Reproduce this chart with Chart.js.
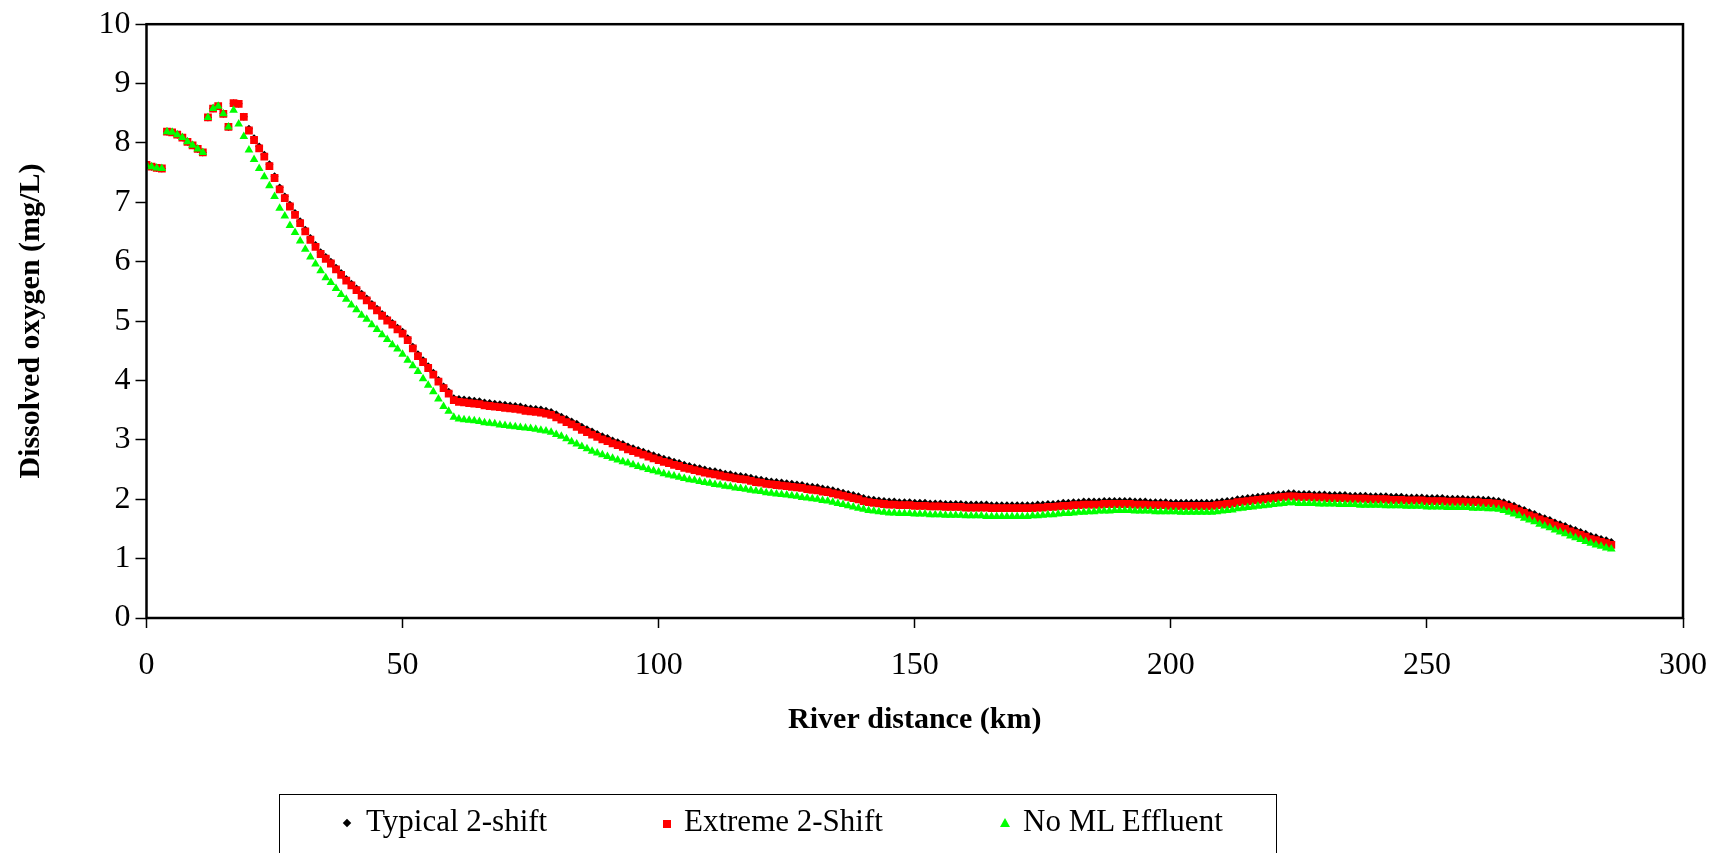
<!DOCTYPE html>
<html>
<head>
<meta charset="utf-8">
<title>Dissolved oxygen along the river</title>
<script src="https://cdn.jsdelivr.net/npm/chart.js@4.4.1/dist/chart.umd.min.js"></script>
<style>
  html, body { margin: 0; padding: 0; background: #fff; overflow: hidden; }
  #wrap { position: relative; width: 1727px; height: 853px; }
  #chart { position: absolute; left: 0; top: 0; }
  #legend {
    position: absolute; left: 279px; top: 794px; width: 998px; height: 90px;
    border: 1.5px solid #000; box-sizing: border-box;
    font-family: "Liberation Serif", serif; font-size: 31px; color: #000;
  }
  #legend .mark { position: absolute; }
  #legend .txt { position: absolute; top: 8px; white-space: nowrap; }
  .diamond { width: 6px; height: 6px; background: #000; transform: rotate(45deg); }
  .square { width: 8px; height: 8px; background: #ff0000; }
  .triangle { width: 0; height: 0; border-left: 5px solid transparent; border-right: 5px solid transparent; border-bottom: 9px solid #00ff00; }
</style>
</head>
<body>
<div id="wrap">
  <canvas id="chart" width="1727" height="853"></canvas>
  <div id="legend">
    <div class="mark diamond" style="left:64px; top:25px;"></div>
    <div class="txt" style="left:86px;">Typical 2-shift</div>
    <div class="mark square" style="left:383px; top:25px;"></div>
    <div class="txt" style="left:404px;">Extreme 2-Shift</div>
    <div class="mark triangle" style="left:720px; top:23px;"></div>
    <div class="txt" style="left:743px;">No ML Effluent</div>
  </div>
</div>
<script>
// 河流距离 (km)
const distanceKm = [
  0, 1, 2, 3, 4, 5, 6, 7, 8, 9,
  10, 11, 12, 13, 14, 15, 16, 17, 18, 19,
  20, 21, 22, 23, 24, 25, 26, 27, 28, 29,
  30, 31, 32, 33, 34, 35, 36, 37, 38, 39,
  40, 41, 42, 43, 44, 45, 46, 47, 48, 49,
  50, 51, 52, 53, 54, 55, 56, 57, 58, 59,
  60, 61, 62, 63, 64, 65, 66, 67, 68, 69,
  70, 71, 72, 73, 74, 75, 76, 77, 78, 79,
  80, 81, 82, 83, 84, 85, 86, 87, 88, 89,
  90, 91, 92, 93, 94, 95, 96, 97, 98, 99,
  100, 101, 102, 103, 104, 105, 106, 107, 108, 109,
  110, 111, 112, 113, 114, 115, 116, 117, 118, 119,
  120, 121, 122, 123, 124, 125, 126, 127, 128, 129,
  130, 131, 132, 133, 134, 135, 136, 137, 138, 139,
  140, 141, 142, 143, 144, 145, 146, 147, 148, 149,
  150, 151, 152, 153, 154, 155, 156, 157, 158, 159,
  160, 161, 162, 163, 164, 165, 166, 167, 168, 169,
  170, 171, 172, 173, 174, 175, 176, 177, 178, 179,
  180, 181, 182, 183, 184, 185, 186, 187, 188, 189,
  190, 191, 192, 193, 194, 195, 196, 197, 198, 199,
  200, 201, 202, 203, 204, 205, 206, 207, 208, 209,
  210, 211, 212, 213, 214, 215, 216, 217, 218, 219,
  220, 221, 222, 223, 224, 225, 226, 227, 228, 229,
  230, 231, 232, 233, 234, 235, 236, 237, 238, 239,
  240, 241, 242, 243, 244, 245, 246, 247, 248, 249,
  250, 251, 252, 253, 254, 255, 256, 257, 258, 259,
  260, 261, 262, 263, 264, 265, 266, 267, 268, 269,
  270, 271, 272, 273, 274, 275, 276, 277, 278, 279,
  280, 281, 282, 283, 284, 285, 286
];

// Typical 2-shift (mg/L)
const typical2Shift = [
  7.63, 7.60, 7.58, 7.57, 8.19, 8.18, 8.14, 8.09, 8.02, 7.96,
  7.90, 7.84, 8.43, 8.58, 8.62, 8.49, 8.27, 8.67, 8.66, 8.44,
  8.24, 8.08, 7.94, 7.80, 7.64, 7.44, 7.25, 7.10, 6.96, 6.82,
  6.68, 6.54, 6.40, 6.28, 6.16, 6.08, 6.00, 5.90, 5.81, 5.71,
  5.63, 5.55, 5.46, 5.38, 5.29, 5.21, 5.12, 5.04, 4.97, 4.89,
  4.82, 4.71, 4.57, 4.44, 4.34, 4.24, 4.13, 4.01, 3.90, 3.81,
  3.70, 3.69, 3.68, 3.67, 3.66, 3.65, 3.63, 3.62, 3.61, 3.60,
  3.59, 3.58, 3.57, 3.56, 3.54, 3.53, 3.52, 3.51, 3.49, 3.47,
  3.43, 3.39, 3.35, 3.31, 3.27, 3.22, 3.18, 3.14, 3.10, 3.06,
  3.03, 2.99, 2.96, 2.93, 2.89, 2.86, 2.83, 2.80, 2.77, 2.74,
  2.71, 2.68, 2.66, 2.63, 2.61, 2.58, 2.56, 2.54, 2.52, 2.50,
  2.48, 2.47, 2.45, 2.43, 2.42, 2.40, 2.39, 2.38, 2.36, 2.34,
  2.33, 2.31, 2.30, 2.29, 2.28, 2.27, 2.26, 2.25, 2.24, 2.22,
  2.21, 2.20, 2.18, 2.17, 2.15, 2.13, 2.11, 2.09, 2.07, 2.05,
  2.02, 2.00, 1.99, 1.98, 1.97, 1.96, 1.96, 1.95, 1.95, 1.95,
  1.94, 1.94, 1.94, 1.93, 1.93, 1.93, 1.92, 1.92, 1.92, 1.92,
  1.91, 1.91, 1.91, 1.91, 1.91, 1.90, 1.90, 1.90, 1.90, 1.90,
  1.90, 1.90, 1.90, 1.90, 1.91, 1.91, 1.92, 1.92, 1.93, 1.94,
  1.94, 1.95, 1.95, 1.96, 1.96, 1.96, 1.96, 1.97, 1.97, 1.97,
  1.97, 1.97, 1.97, 1.96, 1.96, 1.96, 1.95, 1.95, 1.95, 1.95,
  1.94, 1.94, 1.94, 1.94, 1.94, 1.94, 1.94, 1.94, 1.94, 1.95,
  1.96, 1.97, 1.98, 2.00, 2.01, 2.02, 2.03, 2.04, 2.05, 2.06,
  2.07, 2.08, 2.09, 2.10, 2.10, 2.09, 2.09, 2.09, 2.08, 2.08,
  2.08, 2.07, 2.07, 2.07, 2.07, 2.06, 2.06, 2.06, 2.06, 2.05,
  2.05, 2.05, 2.05, 2.04, 2.04, 2.04, 2.03, 2.03, 2.03, 2.03,
  2.02, 2.02, 2.02, 2.02, 2.01, 2.01, 2.01, 2.01, 2.00, 2.00,
  2.00, 1.99, 1.99, 1.98, 1.97, 1.95, 1.92, 1.89, 1.85, 1.82,
  1.78, 1.75, 1.71, 1.68, 1.65, 1.61, 1.58, 1.55, 1.51, 1.48,
  1.45, 1.42, 1.38, 1.36, 1.33, 1.31, 1.28
];

// Extreme 2-Shift (mg/L)
const extreme2Shift = [
  7.63, 7.60, 7.58, 7.57, 8.19, 8.18, 8.14, 8.09, 8.02, 7.96,
  7.90, 7.84, 8.43, 8.58, 8.62, 8.49, 8.27, 8.67, 8.66, 8.44,
  8.21, 8.05, 7.91, 7.77, 7.61, 7.41, 7.22, 7.07, 6.93, 6.79,
  6.65, 6.51, 6.37, 6.25, 6.13, 6.05, 5.97, 5.87, 5.78, 5.68,
  5.60, 5.52, 5.43, 5.35, 5.26, 5.18, 5.09, 5.01, 4.94, 4.86,
  4.79, 4.68, 4.54, 4.41, 4.31, 4.21, 4.10, 3.98, 3.87, 3.78,
  3.67, 3.64, 3.63, 3.62, 3.61, 3.60, 3.58, 3.57, 3.56, 3.55,
  3.54, 3.53, 3.52, 3.51, 3.49, 3.48, 3.47, 3.46, 3.44, 3.42,
  3.38, 3.34, 3.30, 3.26, 3.22, 3.17, 3.13, 3.09, 3.05, 3.01,
  2.98, 2.94, 2.91, 2.88, 2.84, 2.81, 2.78, 2.75, 2.72, 2.69,
  2.66, 2.63, 2.61, 2.58, 2.56, 2.53, 2.51, 2.49, 2.47, 2.45,
  2.43, 2.42, 2.40, 2.38, 2.37, 2.35, 2.34, 2.33, 2.31, 2.29,
  2.28, 2.26, 2.25, 2.24, 2.23, 2.22, 2.21, 2.20, 2.19, 2.17,
  2.16, 2.15, 2.13, 2.12, 2.10, 2.08, 2.06, 2.04, 2.02, 2.00,
  1.97, 1.95, 1.94, 1.93, 1.92, 1.91, 1.91, 1.90, 1.90, 1.90,
  1.89, 1.89, 1.89, 1.88, 1.88, 1.88, 1.87, 1.87, 1.87, 1.87,
  1.86, 1.86, 1.86, 1.86, 1.86, 1.85, 1.85, 1.85, 1.85, 1.85,
  1.85, 1.85, 1.85, 1.85, 1.86, 1.86, 1.87, 1.87, 1.88, 1.89,
  1.89, 1.90, 1.90, 1.91, 1.91, 1.91, 1.91, 1.92, 1.92, 1.92,
  1.92, 1.92, 1.92, 1.91, 1.91, 1.91, 1.90, 1.90, 1.90, 1.90,
  1.89, 1.89, 1.89, 1.89, 1.89, 1.89, 1.89, 1.89, 1.89, 1.90,
  1.91, 1.92, 1.93, 1.95, 1.96, 1.97, 1.98, 1.99, 2.00, 2.01,
  2.02, 2.03, 2.04, 2.05, 2.05, 2.04, 2.04, 2.04, 2.03, 2.03,
  2.03, 2.02, 2.02, 2.02, 2.02, 2.01, 2.01, 2.01, 2.01, 2.00,
  2.00, 2.00, 2.00, 1.99, 1.99, 1.99, 1.98, 1.98, 1.98, 1.98,
  1.97, 1.97, 1.97, 1.97, 1.96, 1.96, 1.96, 1.96, 1.95, 1.95,
  1.95, 1.94, 1.94, 1.93, 1.92, 1.90, 1.87, 1.84, 1.80, 1.77,
  1.73, 1.70, 1.66, 1.63, 1.60, 1.56, 1.53, 1.50, 1.46, 1.43,
  1.40, 1.37, 1.33, 1.31, 1.28, 1.26, 1.23
];

// No ML Effluent (mg/L)
const noMlEffluent = [
  7.63, 7.60, 7.58, 7.57, 8.19, 8.18, 8.14, 8.09, 8.02, 7.96,
  7.90, 7.84, 8.43, 8.58, 8.62, 8.49, 8.27, 8.55, 8.32, 8.11,
  7.88, 7.72, 7.57, 7.43, 7.28, 7.10, 6.90, 6.77, 6.61, 6.49,
  6.35, 6.21, 6.08, 5.96, 5.85, 5.73, 5.65, 5.55, 5.45, 5.37,
  5.27, 5.19, 5.10, 5.03, 4.94, 4.86, 4.77, 4.69, 4.60, 4.53,
  4.44, 4.34, 4.25, 4.15, 4.03, 3.92, 3.81, 3.69, 3.56, 3.48,
  3.38, 3.35, 3.34, 3.33, 3.32, 3.31, 3.29, 3.28, 3.27, 3.25,
  3.24, 3.23, 3.22, 3.21, 3.20, 3.19, 3.18, 3.16, 3.15, 3.13,
  3.09, 3.06, 3.02, 2.97, 2.93, 2.89, 2.85, 2.81, 2.78, 2.75,
  2.72, 2.69, 2.66, 2.63, 2.61, 2.58, 2.55, 2.53, 2.50, 2.48,
  2.46, 2.43, 2.41, 2.39, 2.37, 2.35, 2.33, 2.32, 2.30, 2.28,
  2.27, 2.25, 2.24, 2.22, 2.21, 2.19, 2.18, 2.17, 2.15, 2.14,
  2.13, 2.11, 2.10, 2.09, 2.08, 2.07, 2.06, 2.05, 2.03, 2.02,
  2.01, 2.00, 1.98, 1.97, 1.95, 1.93, 1.91, 1.89, 1.87, 1.85,
  1.83, 1.81, 1.80, 1.79, 1.78, 1.77, 1.77, 1.76, 1.76, 1.76,
  1.75, 1.75, 1.75, 1.74, 1.74, 1.74, 1.73, 1.73, 1.73, 1.73,
  1.72, 1.72, 1.72, 1.72, 1.71, 1.71, 1.71, 1.71, 1.71, 1.71,
  1.71, 1.71, 1.71, 1.72, 1.72, 1.73, 1.74, 1.74, 1.75, 1.76,
  1.76, 1.77, 1.78, 1.78, 1.79, 1.79, 1.80, 1.80, 1.80, 1.81,
  1.81, 1.81, 1.81, 1.80, 1.80, 1.80, 1.80, 1.79, 1.79, 1.79,
  1.79, 1.79, 1.78, 1.78, 1.78, 1.78, 1.78, 1.78, 1.78, 1.79,
  1.80, 1.81, 1.82, 1.84, 1.85, 1.86, 1.87, 1.88, 1.89, 1.90,
  1.91, 1.92, 1.93, 1.94, 1.94, 1.93, 1.93, 1.93, 1.93, 1.92,
  1.92, 1.92, 1.92, 1.91, 1.91, 1.91, 1.91, 1.90, 1.90, 1.90,
  1.90, 1.90, 1.89, 1.89, 1.89, 1.89, 1.88, 1.88, 1.88, 1.88,
  1.87, 1.87, 1.87, 1.87, 1.86, 1.86, 1.86, 1.86, 1.86, 1.85,
  1.85, 1.85, 1.84, 1.84, 1.83, 1.81, 1.78, 1.75, 1.72, 1.68,
  1.65, 1.62, 1.58, 1.55, 1.52, 1.48, 1.45, 1.42, 1.38, 1.35,
  1.32, 1.29, 1.26, 1.23, 1.21, 1.18, 1.16
];

// 坐标轴刻度
const xTicks = [0, 50, 100, 150, 200, 250, 300];
const yTicks = [0, 1, 2, 3, 4, 5, 6, 7, 8, 9, 10];

const serif = '"Liberation Serif", "Times New Roman", serif';

function toPoints(values) {
    return values.map((v, i) => ({ x: distanceKm[i], y: v }));
}

// 绘图区外框
const plotFrame = {
    id: 'plotFrame',
    afterDatasetsDraw(chart) {
        const { ctx, chartArea: a } = chart;
        ctx.save();
        ctx.strokeStyle = '#000';
        ctx.lineWidth = 2.5;
        ctx.strokeRect(a.left, a.top, a.right - a.left, a.bottom - a.top);
        ctx.restore();
    }
};

new Chart(document.getElementById('chart'), {
    type: 'scatter',
    data: {
        datasets: [
            {
                label: 'Typical 2-shift',
                data: toPoints(typical2Shift),
                pointStyle: 'rectRot',
                pointRadius: 4,
                backgroundColor: '#000',
                borderColor: '#000',
                pointBorderWidth: 0,
                order: 3
            },
            {
                label: 'Extreme 2-Shift',
                data: toPoints(extreme2Shift),
                pointStyle: 'rect',
                pointRadius: 5.5,
                backgroundColor: '#ff0000',
                borderColor: '#ff0000',
                pointBorderWidth: 0,
                order: 2
            },
            {
                label: 'No ML Effluent',
                data: toPoints(noMlEffluent),
                pointStyle: 'triangle',
                pointRadius: 5,
                backgroundColor: '#00ff00',
                borderColor: '#00ff00',
                pointBorderWidth: 0,
                order: 1
            }
        ]
    },
    options: {
        responsive: false,
        animation: false,
        layout: { padding: { top: 20, right: 44, bottom: 0, left: 0 } },
        plugins: {
            legend: { display: false },
            tooltip: { enabled: false }
        },
        scales: {
            x: {
                type: 'linear',
                min: xTicks[0],
                max: xTicks[xTicks.length - 1],
                afterBuildTicks: s => { s.ticks = xTicks.map(v => ({ value: v })); },
                ticks: { color: '#000', font: { family: serif, size: 32 }, padding: 18, maxRotation: 0 },
                grid: { display: true, drawOnChartArea: false, drawTicks: true, tickLength: 10, tickColor: '#000', tickWidth: 1.5 },
                border: { display: false },
                title: {
                    display: true,
                    text: 'River distance (km)',
                    color: '#000',
                    font: { family: serif, size: 30, weight: 'bold' },
                    padding: { top: 0, bottom: 115 }
                },
                afterFit: s => { s.height = 235; }
            },
            y: {
                min: yTicks[0],
                max: yTicks[yTicks.length - 1],
                afterBuildTicks: s => { s.ticks = yTicks.map(v => ({ value: v })); },
                ticks: { color: '#000', font: { family: serif, size: 32 }, padding: 5 },
                grid: { display: true, drawOnChartArea: false, drawTicks: true, tickLength: 11, tickColor: '#000', tickWidth: 1.5 },
                border: { display: false },
                title: {
                    display: true,
                    text: 'Dissolved oxygen (mg/L)',
                    color: '#000',
                    font: { family: serif, size: 30, weight: 'bold' },
                    padding: { top: 13, bottom: 0 }
                },
                afterFit: s => { s.width = 146.5; }
            }
        }
    },
    plugins: [plotFrame]
});
</script>
</body>
</html>
